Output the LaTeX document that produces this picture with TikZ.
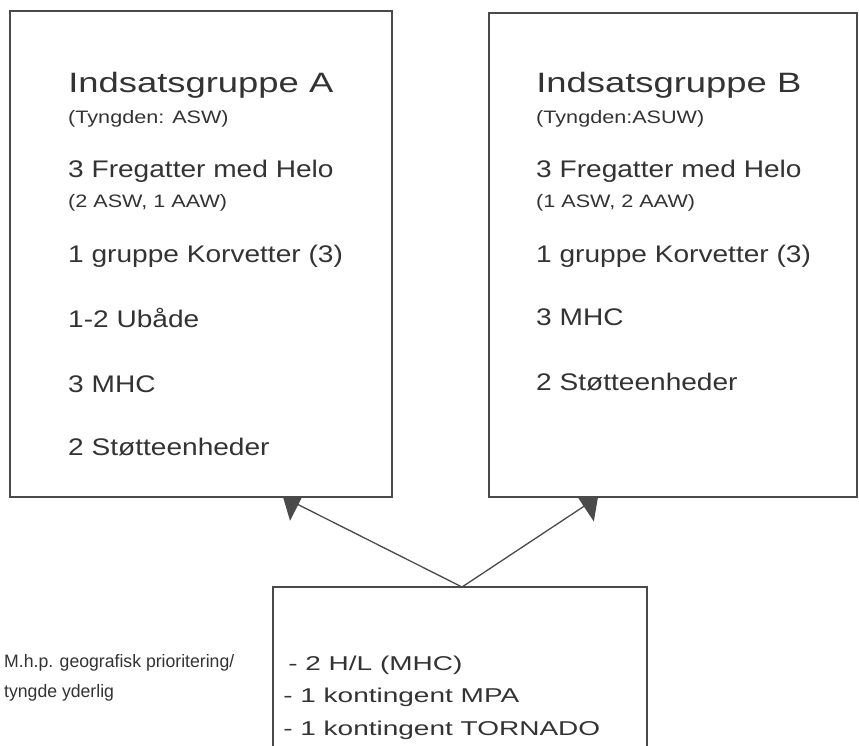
\documentclass[tikz,border=0pt]{standalone}
\usepackage{fontspec}
\setmainfont{Liberation Sans}
\usetikzlibrary{arrows.meta}
\definecolor{ink}{HTML}{333333}
\definecolor{edge}{HTML}{4A4A4A}
\pgfdeclarelayer{background}
\pgfsetlayers{background,main}
\begin{document}
\begin{tikzpicture}[x=1pt,y=-1pt,
  box/.style={draw=edge, line width=1.6pt, fill=white, rectangle, anchor=north west, inner sep=0pt, outer sep=0pt},
  txt/.style={anchor=base west, inner sep=0pt, text=ink},
  title/.style={txt, font=\fontsize{28}{30}\selectfont, xscale=1.3},
  item/.style={txt, font=\fontsize{24}{26}\selectfont, xscale=1.17},
  small/.style={txt, font=\fontsize{18}{20}\selectfont, xscale=1.2},
  bitem/.style={txt, font=\fontsize{20}{22}\selectfont, xscale=1.4},
  note/.style={txt, font=\fontsize{18}{20}\selectfont, xscale=0.98},
  link/.style={draw=edge, line width=1.3pt, -{Triangle[length=17pt,width=36pt]}}
]
\useasboundingbox (0,0) rectangle (859,745);
\clip (0,0) rectangle (859,745);

% boxes
\node[box, minimum width=382pt, minimum height=486pt] (A) at (10,11) {};
\node[box, minimum width=368pt, minimum height=484pt] (B) at (489,13) {};
\node[box, minimum width=374pt, minimum height=170pt] (C) at (273,587) {};

% box A text
\node[title] (a1) at (68,92) {Indsatsgruppe A};
\node[small] (a2) at (68,123) {(Tyngden: ASW)};
\node[item]  (a3) at (68,177) {3 Fregatter med Helo};
\node[small] (a4) at (68,207) {(2 ASW, 1 AAW)};
\node[item]  (a5) at (68,262) {1 gruppe Korvetter (3)};
\node[item]  (a6) at (68,327) {1-2 Ubåde};
\node[item]  (a7) at (68,392) {3 MHC};
\node[item]  (a8) at (68,455) {2 Støtteenheder};

% box B text
\node[title] (b1) at (536,92) {Indsatsgruppe B};
\node[small] (b2) at (536,123) {(Tyngden:ASUW)};
\node[item]  (b3) at (536,177) {3 Fregatter med Helo};
\node[small] (b4) at (536,207) {(1 ASW, 2 AAW)};
\node[item]  (b5) at (536,262) {1 gruppe Korvetter (3)};
\node[item]  (b6) at (536,325) {3 MHC};
\node[item]  (b7) at (536,390) {2 Støtteenheder};

% bottom box text
\node[bitem] (c1) at (288,670) {- 2 H/L (MHC)};
\node[bitem] (c2) at (283,702) {- 1 kontingent MPA};
\node[bitem] (c3) at (283,735) {- 1 kontingent TORNADO};

% side note
\node[note] (n1) at (4,667) {M.h.p. geografisk prioritering/};
\node[note] (n2) at (4,697) {tyngde yderlig};

% connectors
\coordinate (xa) at (283,0);
\coordinate (xb) at (598,0);
\coordinate (xc) at (462,0);
\coordinate (ta) at (A.south -| xa);
\coordinate (tb) at (B.south -| xb);
\coordinate (apex) at (C.north -| xc);
\begin{pgfonlayer}{background}
\fill[white] (0,0) rectangle (859,745);
\draw[link] (apex) -- (ta);
\draw[link] (apex) -- (tb);
\end{pgfonlayer}
\end{tikzpicture}
\end{document}
